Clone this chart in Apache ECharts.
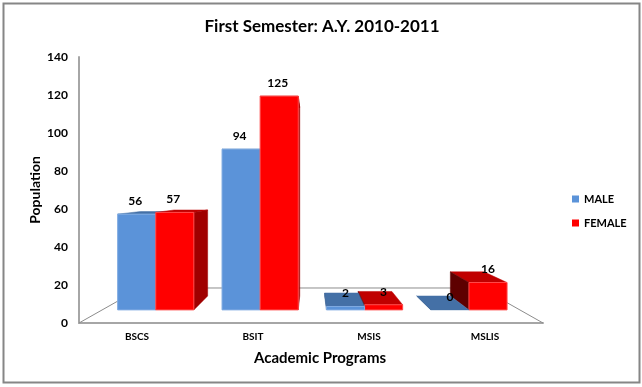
<!DOCTYPE html>
<html>
<head>
<meta charset="utf-8">
<title>First Semester</title>
<style>
html,body{margin:0;padding:0;background:#fff;}
#main{width:642px;height:387px;}
</style>
<script src="https://cdn.jsdelivr.net/npm/echarts@6/dist/echarts.min.js"></script>
</head>
<body>
<div id="main"></div>
<script>
var categories=['BSCS','BSIT','MSIS','MSLIS'];
var maleValues=[56,94,2,0];
var femaleValues=[57,125,3,16];
var fontName='Lato';

//透视参数:视点所在的数值高度,以及柱子前后面、地板后沿的缩放
var eyeValue=69;
var barFront=0.9;
var barBack=0.794;
var floorBack=0.733;
var barShare=0.365;
var barShift=1.5;

var maleColors={front:'#5b93d9',edge:'#7fabe2',top:'#4470a6',left:'#3d6596',right:'#3d6596'};
var femaleColors={front:'#ff0000',edge:'#ff4a4a',top:'#c00000',left:'#5e0000',right:'#a00000'};

function project(p,eye,s){
	return [eye[0]+(p[0]-eye[0])*s,eye[1]+(p[1]-eye[1])*s];
}
function face(points,color,z2,stroke){
	return {
		type:'polygon',
		z2:z2,
		shape:{points:points},
		style:{fill:color,stroke:stroke||color,lineWidth:stroke?1:0.5}
	};
}
function barRender(colors,side){
	return function(params,api){
		var index=api.value(0);
		var value=api.value(1);
		var rect=params.coordSys;
		var eye=[rect.x+rect.width/2,api.coord([0,eyeValue])[1]];
		var center=api.coord([index,0])[0]+barShift;
		var width=api.size([1,0])[0]*barShare;
		var x0=side<0?center-width:center;
		var x1=x0+width;
		var yLow=api.coord([index,0])[1];
		var yTop=api.coord([index,value])[1];
		var fl=project([x0,yLow],eye,barFront),fr=project([x1,yLow],eye,barFront);
		var tl=project([x0,yTop],eye,barFront),tr=project([x1,yTop],eye,barFront);
		var bl=project([x0,yLow],eye,barBack),br=project([x1,yLow],eye,barBack);
		var ul=project([x0,yTop],eye,barBack),ur=project([x1,yTop],eye,barBack);
		//离视点远的柱子先画
		var leftOfEye=center<eye[0];
		var base=leftOfEye==(side<0)?10:20;
		var children=[];
		children.push(face([ul,ur,tr,tl],colors.top,base));
		if(tl[0]>eye[0]){
			children.push(face([fl,bl,ul,tl],colors.left,base+1));
		}
		if(tr[0]<eye[0]){
			children.push(face([fr,br,ur,tr],colors.right,base+1));
		}
		if(value>0){
			children.push(face([fl,fr,tr,tl],colors.front,base+2,colors.edge));
		}
		children.push({
			type:'text',
			z2:50,
			style:{
				text:String(value),
				x:(tl[0]+tr[0])/2-(leftOfEye?1.5:0),
				y:tl[1]-13,
				align:'center',
				verticalAlign:'middle',
				fill:'#000',
				font:'bold 12px '+fontName
			}
		});
		return {type:'group',children:children};
	};
}
function floorRender(params,api){
	var rect=params.coordSys;
	var eye=[rect.x+rect.width/2,api.coord([0,eyeValue])[1]];
	var y=rect.y+rect.height;
	var a=[rect.x,y],b=[rect.x+rect.width,y];
	return {
		type:'polyline',
		z2:1,
		shape:{points:[a,project(a,eye,floorBack),project(b,eye,floorBack),b]},
		style:{fill:'none',stroke:'#8c8c8c',lineWidth:1}
	};
}
function toData(values){
	return values.map(function(v,i){return [i,v];});
}

var myChart=echarts.init(document.getElementById('main'),null,{renderer:'canvas'});
var option={
	animation:false,
	backgroundColor:'#fff',
	title:{
		text:'First Semester: A.Y. 2010-2011',
		left:317,
		top:13,
		textAlign:'center',
		textStyle:{fontFamily:fontName,fontSize:17,fontWeight:'bold',color:'#000'}
	},
	legend:{
		data:['MALE','FEMALE'],
		orient:'vertical',
		left:572,
		top:193.5,
		padding:0,
		itemWidth:7,
		itemHeight:7,
		itemGap:13,
		icon:'rect',
		textStyle:{fontFamily:fontName,fontSize:11,fontWeight:'bold',color:'#000'}
	},
	grid:{left:79,right:99,top:57,bottom:64},
	xAxis:{
		type:'category',
		data:categories,
		name:'Academic Programs',
		nameLocation:'middle',
		nameGap:28,
		nameTextStyle:{fontFamily:fontName,fontSize:15,fontWeight:'bold',color:'#000',padding:[0,0,0,18]},
		axisTick:{show:false},
		axisLine:{lineStyle:{color:'#a6a6a6',width:2}},
		axisLabel:{fontFamily:fontName,fontSize:10,fontWeight:'bold',color:'#000',margin:9}
	},
	yAxis:{
		type:'value',
		min:0,
		max:140,
		interval:20,
		name:'Population',
		nameLocation:'middle',
		nameGap:37,
		nameMoveOverlap:false,
		nameTextStyle:{fontFamily:fontName,fontSize:14,fontWeight:'bold',color:'#000'},
		splitLine:{show:false},
		axisTick:{show:false},
		axisLine:{show:true,lineStyle:{color:'#a6a6a6',width:2}},
		axisLabel:{fontFamily:fontName,fontSize:12,fontWeight:'bold',color:'#000',margin:11}
	},
	graphic:[{
		type:'rect',
		silent:true,
		shape:{x:3.5,y:3.5,width:636,height:379},
		style:{fill:'none',stroke:'#868686',lineWidth:2}
	}],
	series:[{
		type:'custom',
		name:'floor',
		coordinateSystem:'cartesian2d',
		renderItem:floorRender,
		data:[[0,0]],
		silent:true,
		clip:false
	},{
		type:'custom',
		name:'MALE',
		coordinateSystem:'cartesian2d',
		renderItem:barRender(maleColors,-1),
		itemStyle:{color:maleColors.front},
		data:toData(maleValues),
		clip:false
	},{
		type:'custom',
		name:'FEMALE',
		coordinateSystem:'cartesian2d',
		renderItem:barRender(femaleColors,1),
		itemStyle:{color:femaleColors.front},
		data:toData(femaleValues),
		clip:false
	}]
};
myChart.setOption(option);
</script>
</body>
</html>
